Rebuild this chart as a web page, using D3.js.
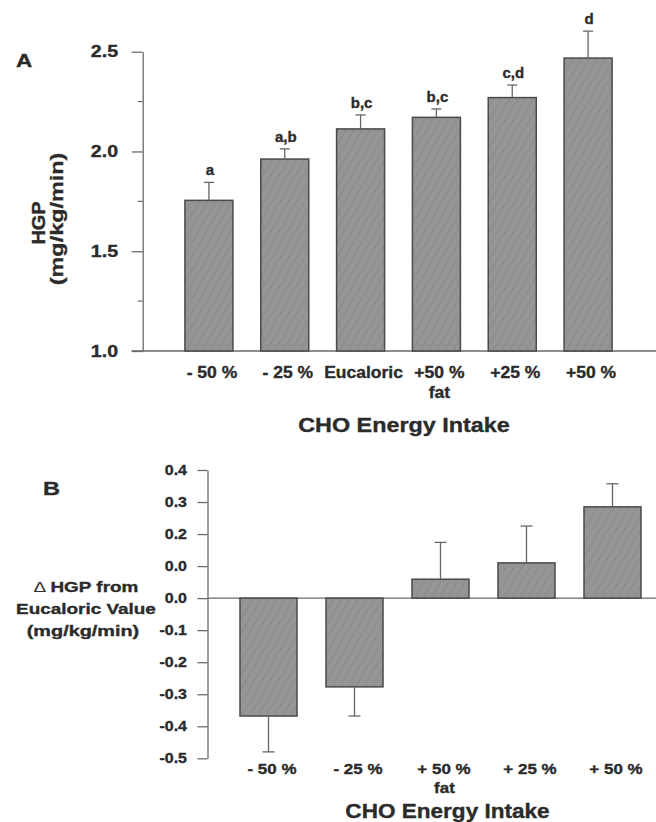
<!DOCTYPE html>
<html>
<head>
<meta charset="utf-8">
<script src="https://cdn.jsdelivr.net/npm/d3@7"></script>
<style>
  html, body { margin: 0; padding: 0; background: #fff; }
  svg { display: block; }
  text { font-family: "Liberation Sans", Arial, sans-serif; font-weight: bold; fill: #2b2b2b; stroke: #2b2b2b; stroke-width: 0.35px; }
</style>
</head>
<body>
<svg id="chart" width="656" height="822"></svg>
<script>
// ---------- data ----------
const catsA = ["- 50 %", "- 25 %", "Eucaloric", "+50 %", "+25 %", "+50 %"];
const subA = ["", "", "", "fat", "", ""];
const valsA = [1.755, 1.962, 2.113, 2.171, 2.27, 2.468];
const errA = [0.090, 0.051, 0.070, 0.042, 0.063, 0.135];
const lettersA = ["a", "a,b", "b,c", "b,c", "c,d", "d"];
const ticksA = [1.0, 1.5, 2.0, 2.5];
const tickLabelsA = ["1.0", "1.5", "2.0", "2.5"];
const minorTicksA = [1.25, 1.75, 2.25];

const catsB = ["- 50 %", "- 25 %", "+ 50 %", "+ 25 %", "+ 50 %"];
const subB = ["", "", "fat", "", ""];
const valsB = [-0.368, -0.277, 0.059, 0.110, 0.285];
const errB = [0.112, 0.091, 0.115, 0.115, 0.072];
const ticksB = [0.4, 0.3, 0.2, 0.1, 0.0, -0.1, -0.2, -0.3, -0.4, -0.5];
const tickLabelsB = ["0.4", "0.3", "0.2", "0.0", "0.0", "-0.1", "-0.2", "-0.3", "-0.4", "-0.5"];

const xTitle = "CHO Energy Intake";
const yTitleA = ["HGP", "(mg/kg/min)"];
const yTitleB = ["HGP from", "Eucaloric Value", "(mg/kg/min)"];

// ---------- helpers ----------
const svg = d3.select("#chart");
const W = 656;
const ink = "#2b2b2b";
const axisCol = "#6a6a6a";

function stretch(sel, sx) {
  sel.each(function () {
    const L = this.getComputedTextLength();
    this.setAttribute("textLength", L * sx);
    this.setAttribute("lengthAdjust", "spacingAndGlyphs");
  });
  return sel;
}

// bar texture
const defs = svg.append("defs");
const pat = defs.append("pattern").attr("id", "hatch")
  .attr("patternUnits", "userSpaceOnUse").attr("width", 7).attr("height", 7)
  .attr("patternTransform", "rotate(30)");
pat.append("rect").attr("width", 7).attr("height", 7).attr("fill", "#959595");
pat.append("line").attr("x1", 0).attr("y1", 0).attr("x2", 0).attr("y2", 7)
  .attr("stroke", "#868686").attr("stroke-width", 1.4);

// ================= PANEL A =================
const axA = 142.7;
const yA = d3.scaleLinear().domain([1.0, 2.5]).range([351, 51.7]);
const xA = d3.scaleBand().domain(d3.range(catsA.length)).range([171, 626])
  .paddingInner(0.367).paddingOuter(0.1835);

const gA = svg.append("g");

// x axis line (baseline)
gA.append("line").attr("x1", axA - 11).attr("x2", W).attr("y1", yA(1)).attr("y2", yA(1))
  .attr("stroke", axisCol).attr("stroke-width", 1.3);

// y axis
const yAxisA = d3.axisLeft(yA).tickValues(ticksA).tickSize(11).tickSizeOuter(0).tickPadding(13.7)
  .tickFormat((d, i) => tickLabelsA[i]);
const gyA = gA.append("g").attr("transform", `translate(${axA},0)`).call(yAxisA);
gyA.selectAll("path, line").attr("stroke", axisCol).attr("stroke-width", 1.3);
gyA.selectAll("text").style("font-size", "16px").attr("fill", ink)
  .style("font-family", '"Liberation Sans", Arial, sans-serif').style("font-weight", "bold");
stretch(gyA.selectAll("text"), 1.22);
// minor ticks
gA.selectAll(".minorA").data(minorTicksA).join("line")
  .attr("x1", axA - 5).attr("x2", axA).attr("y1", d => yA(d)).attr("y2", d => yA(d))
  .attr("stroke", axisCol).attr("stroke-width", 1.2);

// bars
gA.selectAll(".barA").data(valsA).join("rect")
  .attr("x", (d, i) => xA(i)).attr("width", xA.bandwidth())
  .attr("y", d => yA(d)).attr("height", d => yA(1) - yA(d))
  .attr("fill", "url(#hatch)").attr("stroke", "#4a4a4a").attr("stroke-width", 1.5);

// error bars (upward)
const cA = i => xA(i) + xA.bandwidth() / 2;
gA.selectAll(".errA").data(valsA).join("line")
  .attr("x1", (d, i) => cA(i)).attr("x2", (d, i) => cA(i))
  .attr("y1", d => yA(d)).attr("y2", (d, i) => yA(d + errA[i]))
  .attr("stroke", "#666").attr("stroke-width", 1.3);
gA.selectAll(".capA").data(valsA).join("line")
  .attr("x1", (d, i) => cA(i) - 5).attr("x2", (d, i) => cA(i) + 5)
  .attr("y1", (d, i) => yA(d + errA[i])).attr("y2", (d, i) => yA(d + errA[i]))
  .attr("stroke", "#666").attr("stroke-width", 1.3);

// significance letters
gA.selectAll(".letA").data(lettersA).join("text")
  .attr("x", (d, i) => cA(i) + 1).attr("y", (d, i) => yA(valsA[i] + errA[i]) - 7)
  .attr("text-anchor", "middle").style("font-size", "15px").text(d => d);

// category labels
gA.selectAll(".catA").data(catsA).join("text")
  .attr("x", (d, i) => cA(i) + 3).attr("y", 378)
  .attr("text-anchor", "middle").style("font-size", "16.5px").text(d => d)
  .call(s => stretch(s, 1.06));
gA.selectAll(".subA").data(subA.map((s, i) => ({ s, i })).filter(d => d.s)).join("text")
  .attr("x", d => cA(d.i) + 3).attr("y", 398)
  .attr("text-anchor", "middle").style("font-size", "16.5px").text(d => d.s)
  .call(s => stretch(s, 1.06));

// x title
gA.append("text").attr("x", 404).attr("y", 431.7).attr("text-anchor", "middle")
  .style("font-size", "20.5px").text(xTitle).call(s => stretch(s, 1.14));

// y title (rotated)
gA.append("text").attr("transform", "translate(45,223) rotate(-90)").attr("text-anchor", "middle")
  .style("font-size", "19px").text(yTitleA[0]).call(s => stretch(s, 1.05));
gA.append("text").attr("transform", "translate(62.5,219) rotate(-90)").attr("text-anchor", "middle")
  .style("font-size", "19px").text(yTitleA[1]).call(s => stretch(s, 1.23));

// panel letter
gA.append("text").attr("x", 16).attr("y", 67.3).style("font-size", "18px").text("A")
  .call(s => stretch(s, 1.25));

// ================= PANEL B =================
const axB = 207.5;
const yB = d3.scaleLinear().domain([-0.5, 0.4]).range([758.3, 470]);
const xB = d3.scaleBand().domain(d3.range(catsB.length)).range([225.5, 655.5])
  .paddingInner(0.337).paddingOuter(0.1685);
const cB = i => xB(i) + xB.bandwidth() / 2;

const gB = svg.append("g");

// zero line
gB.append("line").attr("x1", axB).attr("x2", W).attr("y1", yB(0)).attr("y2", yB(0))
  .attr("stroke", axisCol).attr("stroke-width", 1.3);

// y axis
const yAxisB = d3.axisLeft(yB).tickValues(ticksB).tickSize(10).tickSizeOuter(0).tickPadding(10.5)
  .tickFormat((d, i) => tickLabelsB[i]);
const gyB = gB.append("g").attr("transform", `translate(${axB},0)`).call(yAxisB);
gyB.selectAll("path, line").attr("stroke", axisCol).attr("stroke-width", 1.3);
gyB.selectAll("text").style("font-size", "14.5px").attr("fill", ink)
  .style("font-family", '"Liberation Sans", Arial, sans-serif').style("font-weight", "bold");
stretch(gyB.selectAll("text"), 1.1);

// bars
gB.selectAll(".barB").data(valsB).join("rect")
  .attr("x", (d, i) => xB(i)).attr("width", xB.bandwidth())
  .attr("y", d => yB(Math.max(0, d))).attr("height", d => Math.abs(yB(d) - yB(0)))
  .attr("fill", "url(#hatch)").attr("stroke", "#4a4a4a").attr("stroke-width", 1.5);

// error bars (away from zero)
const tipB = (d, i) => yB(d + Math.sign(d) * errB[i]);
gB.selectAll(".errB").data(valsB).join("line")
  .attr("x1", (d, i) => cB(i)).attr("x2", (d, i) => cB(i))
  .attr("y1", d => yB(d)).attr("y2", tipB)
  .attr("stroke", "#666").attr("stroke-width", 1.3);
gB.selectAll(".capB").data(valsB).join("line")
  .attr("x1", (d, i) => cB(i) - 6).attr("x2", (d, i) => cB(i) + 6)
  .attr("y1", tipB).attr("y2", tipB)
  .attr("stroke", "#666").attr("stroke-width", 1.3);

// category labels
gB.selectAll(".catB").data(catsB).join("text")
  .attr("x", (d, i) => cB(i) + 3.5).attr("y", 774)
  .attr("text-anchor", "middle").style("font-size", "15px").text(d => d)
  .call(s => stretch(s, 1.13));
gB.selectAll(".subB").data(subB.map((s, i) => ({ s, i })).filter(d => d.s)).join("text")
  .attr("x", d => cB(d.i) + 4).attr("y", 793.3)
  .attr("text-anchor", "middle").style("font-size", "15px").text(d => d.s)
  .call(s => stretch(s, 1.13));

// x title
gB.append("text").attr("x", 447.5).attr("y", 818.3).attr("text-anchor", "middle")
  .style("font-size", "20.5px").text(xTitle).call(s => stretch(s, 1.1));

// y title (three lines)
const t1 = gB.append("text").attr("x", 86).attr("y", 592).attr("text-anchor", "middle")
  .style("font-size", "15.5px");
t1.append("tspan").style("font-weight", "normal").style("stroke-width", "0px").text("\u0394 ");
t1.append("tspan").text(yTitleB[0]);
stretch(t1, 1.22);
gB.append("text").attr("x", 86).attr("y", 614).attr("text-anchor", "middle")
  .style("font-size", "15.5px").text(yTitleB[1]).call(s => stretch(s, 1.22));
gB.append("text").attr("x", 83).attr("y", 635.5).attr("text-anchor", "middle")
  .style("font-size", "15.5px").text(yTitleB[2]).call(s => stretch(s, 1.28));

// panel letter
gB.append("text").attr("x", 43).attr("y", 495).style("font-size", "18.5px").text("B")
  .call(s => stretch(s, 1.27));
</script>
</body>
</html>
